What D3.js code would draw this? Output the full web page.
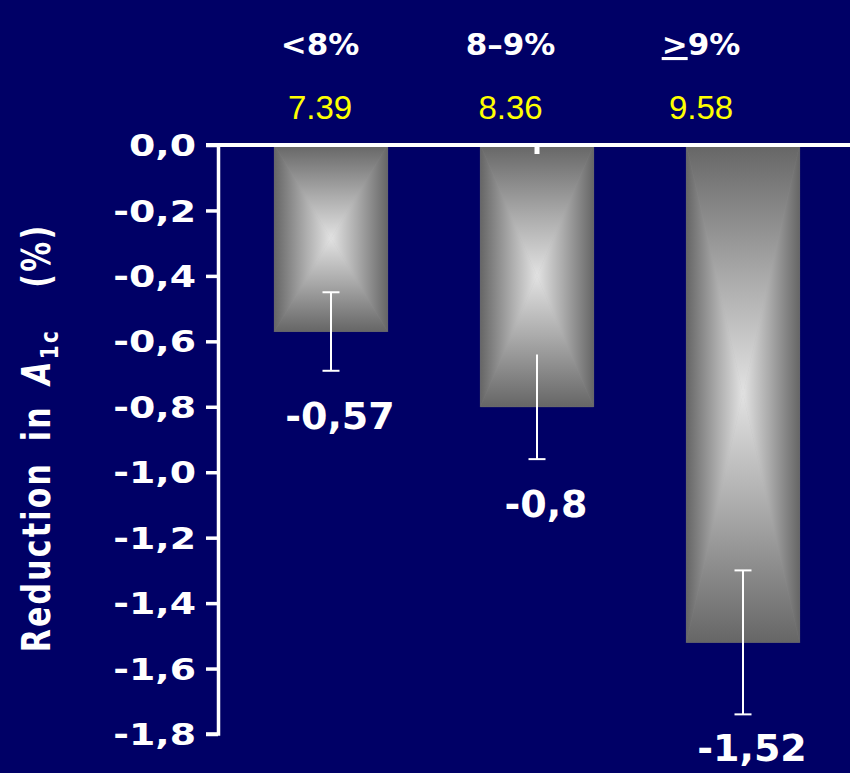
<!DOCTYPE html>
<html>
<head>
<meta charset="utf-8">
<script src="https://cdn.jsdelivr.net/npm/d3@7"></script>
<style>
  html, body { margin: 0; padding: 0; background: #000066; }
  svg { display: block; }
</style>
</head>
<body>
<svg id="chart" width="850" height="773"></svg>
<script>
// Baseline HbA1c groups and mean reduction in A1c (%) with error bars
const categories   = ["<8%", "8–9%", ">9%"];
const baselineA1c  = ["7.39", "8.36", "9.58"];
const reductions   = [-0.57, -0.8, -1.52];
const errors       = [0.12, 0.16, 0.22];
const upperCaps    = [true, false, true];
const yTicks       = [0, -0.2, -0.4, -0.6, -0.8, -1.0, -1.2, -1.4, -1.6, -1.8];

const rows = categories.map((c, i) => ({
  cat: c, base: baselineA1c[i], value: reductions[i],
  err: errors[i], cap: upperCaps[i]
}));

const svg = d3.select("#chart");
const W = 850, H = 773;
svg.append("rect").attr("width", W).attr("height", H).attr("fill", "#000066");

const axisX = 218;
const y = d3.scaleLinear().domain([0, -1.8]).range([145, 734]);
const x = d3.scaleBand().domain(categories).range([axisX, 856])
  .paddingInner(0.45).paddingOuter(0.2735);
const headerX = d3.scalePoint().domain(categories).range([320, 701]);

const comma = v => String(v).replace(".", ",");
const tickFmt = v => d3.format(".1f")(v).replace("−", "-").replace(".", ",");

// Rectangular ("box") gradient built from four triangles per bar
const defs = svg.append("defs");
const dark = "#666666", light = "#e2e2e2";
function grad(id, x1, y1, x2, y2) {
  const g = defs.append("linearGradient").attr("id", id)
    .attr("x1", x1).attr("y1", y1).attr("x2", x2).attr("y2", y2);
  g.append("stop").attr("offset", "0%").attr("stop-color", dark);
  g.append("stop").attr("offset", "55%").attr("stop-color", "#acacac");
  g.append("stop").attr("offset", "100%").attr("stop-color", light);
}
grad("gTop", 0, 0, 0, 1);
grad("gBottom", 0, 1, 0, 0);
grad("gLeft", 0, 0, 1, 0);
grad("gRight", 1, 0, 0, 0);

const bars = svg.append("g").selectAll("g").data(rows).join("g");
bars.each(function(d) {
  const g = d3.select(this);
  const x0 = x(d.cat), x1 = x0 + x.bandwidth();
  const y0 = y(0), y1 = y(d.value);
  const cx = (x0 + x1) / 2, cy = (y0 + y1) / 2;
  g.append("rect").attr("x", x0).attr("y", y0)
    .attr("width", x1 - x0).attr("height", y1 - y0).attr("fill", "#9a9a9a");
  const tris = [
    { pts: [[x0, y0], [x1, y0], [cx, cy]], f: "gTop" },
    { pts: [[x0, y1], [x1, y1], [cx, cy]], f: "gBottom" },
    { pts: [[x0, y0], [x0, y1], [cx, cy]], f: "gLeft" },
    { pts: [[x1, y0], [x1, y1], [cx, cy]], f: "gRight" }
  ];
  tris.forEach(t => {
    g.append("path")
      .attr("d", "M" + t.pts.map(p => p.join(",")).join("L") + "Z")
      .attr("fill", `url(#${t.f})`)
      .attr("stroke", `url(#${t.f})`)
      .attr("stroke-width", 0.6)
      .attr("stroke-linejoin", "round");
  });
});

// Error bars
const capW = 17;
const eb = svg.append("g").attr("stroke", "#ffffff").attr("stroke-width", 2).attr("fill", "none");
rows.forEach(d => {
  const cx = x(d.cat) + x.bandwidth() / 2;
  const hi = d.value + d.err, lo = d.value - d.err;
  eb.append("line").attr("x1", cx).attr("x2", cx).attr("y1", y(hi)).attr("y2", y(lo));
  eb.append("line").attr("x1", cx - capW / 2).attr("x2", cx + capW / 2).attr("y1", y(lo)).attr("y2", y(lo));
  if (d.cap) {
    eb.append("line").attr("x1", cx - capW / 2).attr("x2", cx + capW / 2).attr("y1", y(hi)).attr("y2", y(hi));
  }
});

// Y axis
const yAxis = svg.append("g").attr("transform", `translate(${axisX},0)`)
  .call(d3.axisLeft(y).tickValues(yTicks).tickSize(12).tickSizeOuter(0).tickFormat(""));
yAxis.select(".domain").attr("stroke", "#ffffff").attr("stroke-width", 3.5)
  .attr("d", `M0.5,${y(0)}V${y(-1.8)}H-12`);
yAxis.selectAll(".tick line").attr("stroke", "#ffffff").attr("stroke-width", 3.5);

svg.append("g").selectAll("text").data(yTicks).join("text")
  .attr("transform", d => `translate(196,${y(d)}) scale(1.22,1)`)
  .attr("dy", "0.36em")
  .attr("text-anchor", "end")
  .attr("fill", "#ffffff")
  .attr("font-family", "DejaVu Sans, sans-serif")
  .attr("font-weight", "bold")
  .attr("font-size", 31)
  .text(tickFmt);

// Zero line across the plot, with the middle category tick
svg.append("line").attr("x1", axisX - 12).attr("x2", W).attr("y1", y(0)).attr("y2", y(0))
  .attr("stroke", "#ffffff").attr("stroke-width", 4);
const midCat = categories[1];
svg.append("line")
  .attr("x1", x(midCat) + x.bandwidth() / 2).attr("x2", x(midCat) + x.bandwidth() / 2)
  .attr("y1", y(0)).attr("y2", y(0) + 9)
  .attr("stroke", "#ffffff").attr("stroke-width", 5);

// Category headers and baseline A1c
const headers = svg.append("g").selectAll("text").data(rows).join("text")
  .attr("x", d => headerX(d.cat)).attr("y", 55)
  .attr("text-anchor", "middle")
  .attr("fill", "#ffffff")
  .attr("font-family", "DejaVu Sans, sans-serif")
  .attr("font-weight", "bold")
  .attr("font-size", 31);
headers.each(function(d) {
  const t = d3.select(this);
  if (d.cat.startsWith(">")) {
    t.append("tspan").attr("text-decoration", "underline").text(">");
    t.append("tspan").text(d.cat.slice(1));
  } else {
    t.text(d.cat);
  }
});

svg.append("g").selectAll("text").data(rows).join("text")
  .attr("x", d => headerX(d.cat)).attr("y", 119)
  .attr("text-anchor", "middle")
  .attr("fill", "#ffff00")
  .attr("font-family", "Liberation Sans, Arial, sans-serif")
  .attr("font-size", 33)
  .text(d => d.base);

// Value labels under each error bar (kept inside the bottom edge)
svg.append("g").selectAll("text").data(rows).join("text")
  .attr("x", d => x(d.cat) + x.bandwidth() / 2 + 9)
  .attr("y", d => Math.min(y(d.value - d.err) + 58, H - 12))
  .attr("text-anchor", "middle")
  .attr("fill", "#ffffff")
  .attr("font-family", "DejaVu Sans, sans-serif")
  .attr("font-weight", "bold")
  .attr("font-size", 38)
  .text(d => comma(d.value));

// Y axis title
const title = svg.append("text")
  .attr("transform", "translate(50,438) scale(1.28,1) rotate(-90)")
  .attr("text-anchor", "middle")
  .attr("fill", "#ffffff")
  .attr("font-family", "DejaVu Sans, sans-serif")
  .attr("font-weight", "bold")
  .attr("font-size", 30)
  .attr("letter-spacing", 2.2)
  .attr("word-spacing", 8)
  .style("white-space", "pre");
title.append("tspan").text("Reduction in ");
title.append("tspan").attr("font-style", "italic").text("A");
title.append("tspan").attr("font-size", 20).attr("dy", 6).text("1c");
title.append("tspan").attr("dy", -6).text("  (%)");
</script>
</body>
</html>
